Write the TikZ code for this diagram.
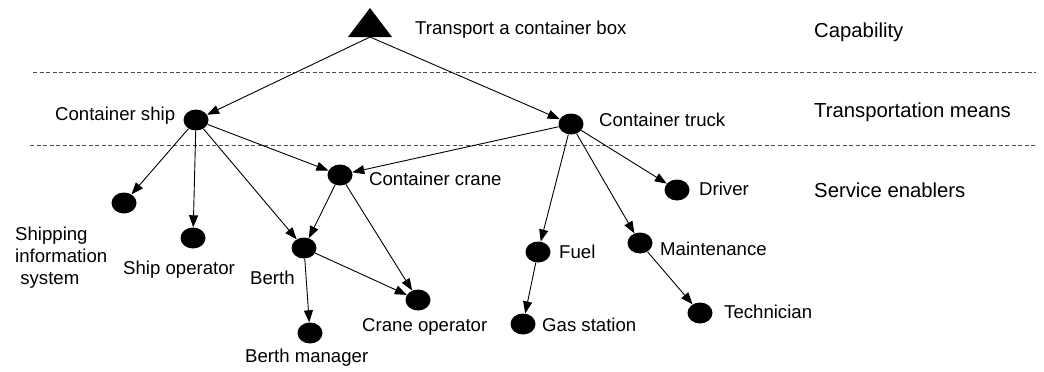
\documentclass[tikz,border=0pt]{standalone}
\usepackage{fontspec}
\setmainfont{Liberation Sans}
\usetikzlibrary{arrows.meta,shapes.geometric}
\begin{document}
\begin{tikzpicture}[x=1pt,y=-1pt,
  dot/.style={shape=ellipse,fill=black,draw=none,inner sep=0pt,minimum width=25pt,minimum height=21pt},
  lbl/.style={anchor=west,inner sep=0pt,font=\fontsize{18.6}{22}\selectfont,align=left},
  layerlbl/.style={anchor=west,inner sep=0pt,font=\fontsize{20.3}{24}\selectfont},
  arr/.style={line width=0.9pt,-{Triangle[length=12pt,width=9pt]}},
  sep/.style={line width=0.9pt,black!70,dash pattern=on 4pt off 2.5pt}]
\useasboundingbox (0,0) rectangle (1044,372);
% layer separators
\draw[sep] (33,72) -- (1036,72);
\draw[sep] (30,145) -- (1036,145);
% capability triangle
\fill (348,37) -- (370,8) -- (392,37) -- cycle;
\coordinate (cap) at (370,37);
% nodes
\node[dot] (ship) at (196,120) {};
\node[dot] (truck) at (571,124) {};
\node[dot] (crane) at (340,175) {};
\node[dot] (sis) at (124,203) {};
\node[dot] (shipop) at (193,238) {};
\node[dot] (berth) at (304,248) {};
\node[dot] (craneop) at (418,300) {};
\node[dot] (berthman) at (310,333) {};
\node[dot] (driver) at (677,190) {};
\node[dot] (fuel) at (538,252) {};
\node[dot] (maint) at (640,243) {};
\node[dot] (gas) at (523,324) {};
\node[dot] (tech) at (700,313) {};
% labels
\node[lbl] (tcap) at (415,30) {Transport a container box};
\node[layerlbl] (lcap) at (814,32) {Capability};
\node[layerlbl] (ltm) at (814,112) {Transportation means};
\node[layerlbl] (lse) at (814,190) {Service enablers};
\node[lbl] (tship) at (55,116) {Container ship};
\node[lbl] (ttruck) at (599,120) {Container truck};
\node[lbl] (tcrane) at (369,179) {Container crane};
\node[lbl] (tsis) at (15,258) {Shipping\\information\\\ system};
\node[lbl] (tshipop) at (123,270) {Ship operator};
\node[lbl] (tberth) at (250,278) {Berth};
\node[lbl] (tcraneop) at (362,327) {Crane operator};
\node[lbl] (tberthman) at (245,358) {Berth manager};
\node[lbl] (tdriver) at (699,189) {Driver};
\node[lbl] (tfuel) at (559,252) {Fuel};
\node[lbl] (tmaint) at (660,249) {Maintenance};
\node[lbl] (tgas) at (542,325) {Gas station};
\node[lbl] (ttech) at (724,312) {Technician};
% connectors
\draw[arr] (cap) -- (ship);
\draw[arr] (cap) -- (truck);
\draw[arr] (ship) -- (sis);
\draw[arr] (ship) -- (shipop);
\draw[arr] (ship) -- (berth);
\draw[arr] (ship) -- (crane);
\draw[arr] (truck) -- (crane);
\draw[arr] (crane) -- (berth);
\draw[arr] (crane) -- (craneop);
\draw[arr] (berth) -- (craneop);
\draw[arr] (berth) -- (berthman);
\draw[arr] (truck) -- (fuel);
\draw[arr] (truck) -- (maint);
\draw[arr] (truck) -- (driver);
\draw[arr] (fuel) -- (gas);
\draw[arr] (maint) -- (tech);
\end{tikzpicture}
\end{document}
